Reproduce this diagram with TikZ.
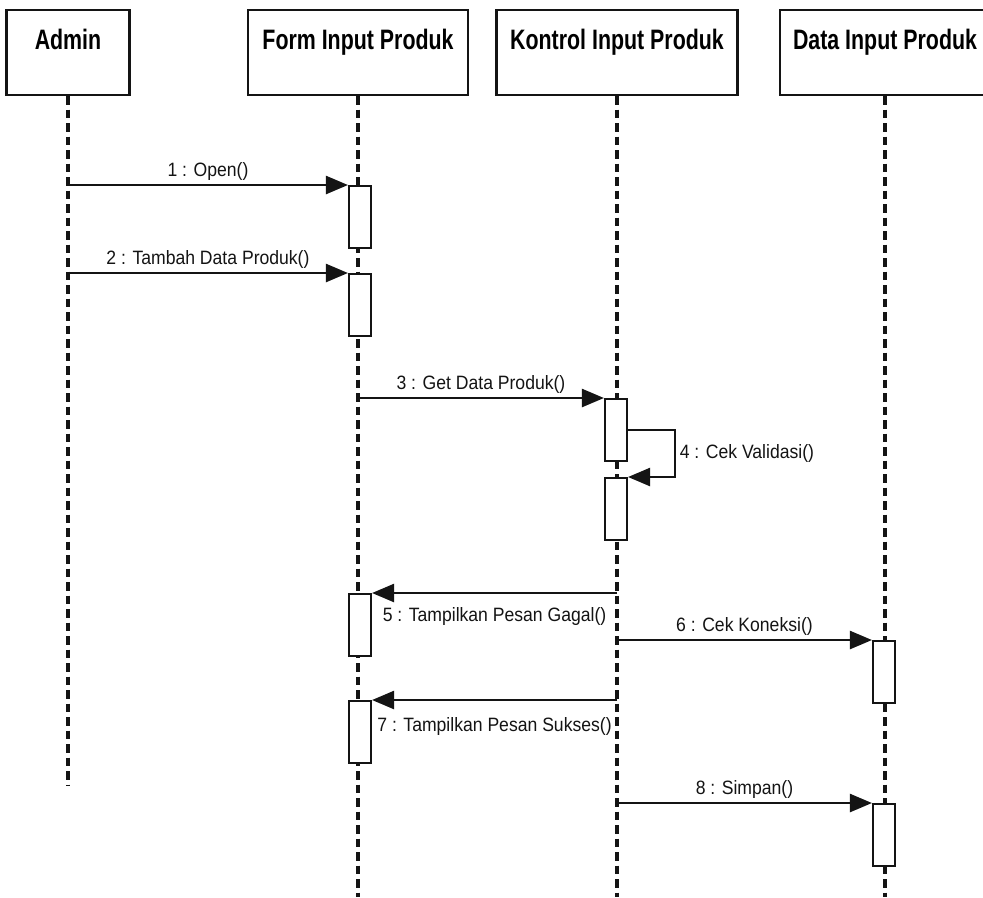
\documentclass[tikz,border=0pt]{standalone}
\usepackage{fontspec}
\setsansfont{Liberation Sans}
\newfontfamily\headfont{Liberation Sans}[FakeStretch=0.76]
\newfontfamily\msgfont{Liberation Sans}[FakeStretch=0.91]
\usetikzlibrary{arrows.meta}

\begin{document}
\begin{tikzpicture}[x=0.02cm,y=-0.02cm,
  head/.style={draw=ink, line width=1.3pt, fill=white, minimum height=1.7cm,
    inner sep=0pt, text height=0.78cm, text depth=0.92cm,
    font=\headfont\bfseries\fontsize{16}{18}\selectfont},
  life/.style={draw=ink, line width=2.1pt, dash pattern=on 0.17cm off 0.1cm},
  act/.style={draw=ink, line width=1.2pt, fill=white, minimum width=0.44cm,
    minimum height=1.24cm, inner sep=0pt, anchor=north},
  msg/.style={draw=ink, line width=1.4pt, -{Triangle[length=0.44cm,width=0.36cm]}},
  lbl/.style={text=ink, font=\msgfont\fontsize{11}{13}\selectfont, inner sep=2pt}]
  \definecolor{ink}{RGB}{20,20,20}

  \clip (0,0) rectangle (983,897);
  \fill[white] (0,0) rectangle (983,897);

  % objek
  \foreach \name/\x/\w/\txt in {
    admin/68/2.46/Admin,
    form/358/4.4/{Form Input Produk},
    kontrol/617/4.82/{Kontrol Input Produk},
    data/885/4.2/{Data Input Produk}
  } {
    \node[head, minimum width=\w cm] (\name) at (\x,52.5) {\txt};
  }

  % lifeline
  \coordinate (adminEnd) at (68,785);
  \coordinate (bottom) at (0,897);
  \draw[life] (admin.south) -- (adminEnd);
  \foreach \name in {form,kontrol,data}
    \draw[life] (\name.south) -- (\name.south |- bottom);

  % aktivasi
  \foreach \id/\x/\y in {a1/360/185, a2/360/273, a3/616/398, a4/616/477,
                         a5/360/593, a6/884/640, a7/360/700, a8/884/803}
    \node[act] (\id) at (\x,\y) {};

  % pesan
  \draw[msg] (admin |- a1.north west) -- node[lbl, above] (m1) {1 : Open()} (a1.north west);
  \draw[msg] (admin |- a2.north west) -- node[lbl, above] (m2) {2 : Tambah Data Produk()} (a2.north west);
  \draw[msg] (form |- a3.north west) -- node[lbl, above] (m3) {3 : Get Data Produk()} (a3.north west);
  \draw[msg] (a3.east) -- ++(47,0) |- node[lbl, right, pos=0.25] (m4) {4 : Cek Validasi()} (a4.north east);
  \draw[msg] (kontrol |- a5.north east) -- node[lbl, below, yshift=-0.2cm] (m5) {5 : Tampilkan Pesan Gagal()} (a5.north east);
  \draw[msg] (kontrol |- a6.north west) -- node[lbl, above] (m6) {6 : Cek Koneksi()} (a6.north west);
  \draw[msg] (kontrol |- a7.north east) -- node[lbl, below, yshift=-0.26cm] (m7) {7 : Tampilkan Pesan Sukses()} (a7.north east);
  \draw[msg] (kontrol |- a8.north west) -- node[lbl, above] (m8) {8 : Simpan()} (a8.north west);
\end{tikzpicture}
\end{document}
